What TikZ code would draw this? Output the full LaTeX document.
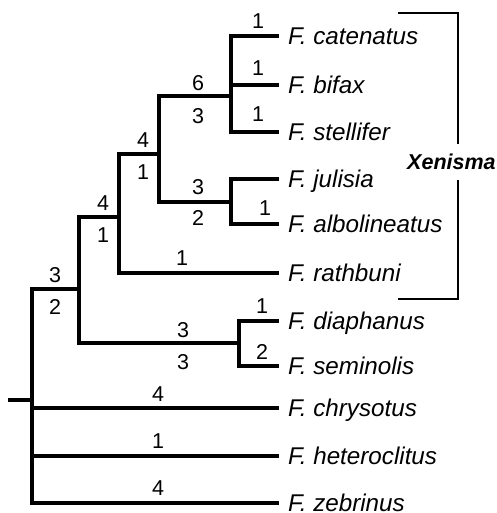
\documentclass[tikz,border=0pt]{standalone}
\usepackage{fontspec}
\setmainfont{Liberation Sans}
\begin{document}
\begin{tikzpicture}[x=1pt,y=-1pt,
  br/.style={line width=3.1pt,line join=miter},
  brk/.style={line width=1.4pt},
  sp/.style={anchor=base west,inner sep=0pt,font=\fontsize{24.2}{28}\selectfont\itshape},
  num/.style={anchor=center,inner sep=0pt,font=\fontsize{21.5}{25}\selectfont},
  gen/.style={anchor=base west,inner sep=0pt,font=\fontsize{21.5}{25}\selectfont\bfseries\itshape}]
\useasboundingbox (0,0) rectangle (496,513);
% tip coordinates
\coordinate (tcat) at (279,36);
\coordinate (tbif) at (279,85);
\coordinate (tste) at (279,132);
\coordinate (tjul) at (279,179);
\coordinate (talb) at (279,224);
\coordinate (trat) at (279,273);
\coordinate (tdia) at (279,321);
\coordinate (tsem) at (279,366);
\coordinate (tchr) at (279,408);
\coordinate (thet) at (279,456);
\coordinate (tzeb) at (279,503);
% internal nodes
\coordinate (nA) at (231,96);
\coordinate (nB) at (231,202);
\coordinate (nC) at (159,154);
\coordinate (nD) at (119,217);
\coordinate (nE) at (239,343);
\coordinate (nF) at (79,289);
\coordinate (root) at (32,400);
\coordinate (stub) at (8,400);
% species labels
\node[sp] (lcat) at (288,44.5) {F. catenatus};
\node[sp] (lbif) at (288,93.5) {F. bifax};
\node[sp] (lste) at (288,140.5) {F. stellifer};
\node[sp] (ljul) at (288,187.5) {F. julisia};
\node[sp] (lalb) at (288,232.5) {F. albolineatus};
\node[sp] (lrat) at (288,281.5) {F. rathbuni};
\node[sp] (ldia) at (288,329.5) {F. diaphanus};
\node[sp] (lsem) at (288,374.5) {F. seminolis};
\node[sp] (lchr) at (288,416.5) {F. chrysotus};
\node[sp] (lhet) at (288,464.5) {F. heteroclitus};
\node[sp] (lzeb) at (288,511.5) {F. zebrinus};
% branches
\draw[br] (tcat) -| (nA) |- (tste);
\draw[br] (nA |- tbif) -- (tbif);
\draw[br] (tjul) -| (nB) |- (talb);
\draw[br] (nA) -| (nC) |- (nB);
\draw[br] (nC) -| (nD) |- (trat);
\draw[br] (tdia) -| (nE) |- (tsem);
\draw[br] (nD) -| (nF) |- (nE);
\draw[br] (nF) -| (root) |- (tzeb);
\draw[br] (root |- tchr) -- (tchr);
\draw[br] (root |- thet) -- (thet);
\draw[br] (stub) -- (root);
% branch numbers
\node[num] (c1) at (258,21) {1};
\node[num] (c2) at (258,68) {1};
\node[num] (c3) at (258,114) {1};
\node[num] (c4) at (265,208) {1};
\node[num] (c5) at (262,306) {1};
\node[num] (c6) at (262,352) {2};
\node[num] (c7) at (198,83) {6};
\node[num] (c8) at (198,116) {3};
\node[num] (c9) at (143,140) {4};
\node[num] (c10) at (143,172) {1};
\node[num] (c11) at (198,187) {3};
\node[num] (c12) at (198,218) {2};
\node[num] (c13) at (103,203) {4};
\node[num] (c14) at (103,235) {1};
\node[num] (c15) at (182,258) {1};
\node[num] (c16) at (55,275) {3};
\node[num] (c17) at (55,307) {2};
\node[num] (c18) at (183,330) {3};
\node[num] (c19) at (183,362) {3};
\node[num] (c20) at (158,394) {4};
\node[num] (c21) at (158,441) {1};
\node[num] (c22) at (158,488) {4};
% Xenisma bracket
\coordinate (b1) at (398,13);
\coordinate (b2) at (458,144);
\coordinate (b3) at (458,180);
\coordinate (b4) at (398,299);
\draw[brk] (b1) -| (b2);
\draw[brk] (b3) |- (b4);
\node[gen] (xen) at (407,169.5) {Xenisma};
\end{tikzpicture}
\end{document}
